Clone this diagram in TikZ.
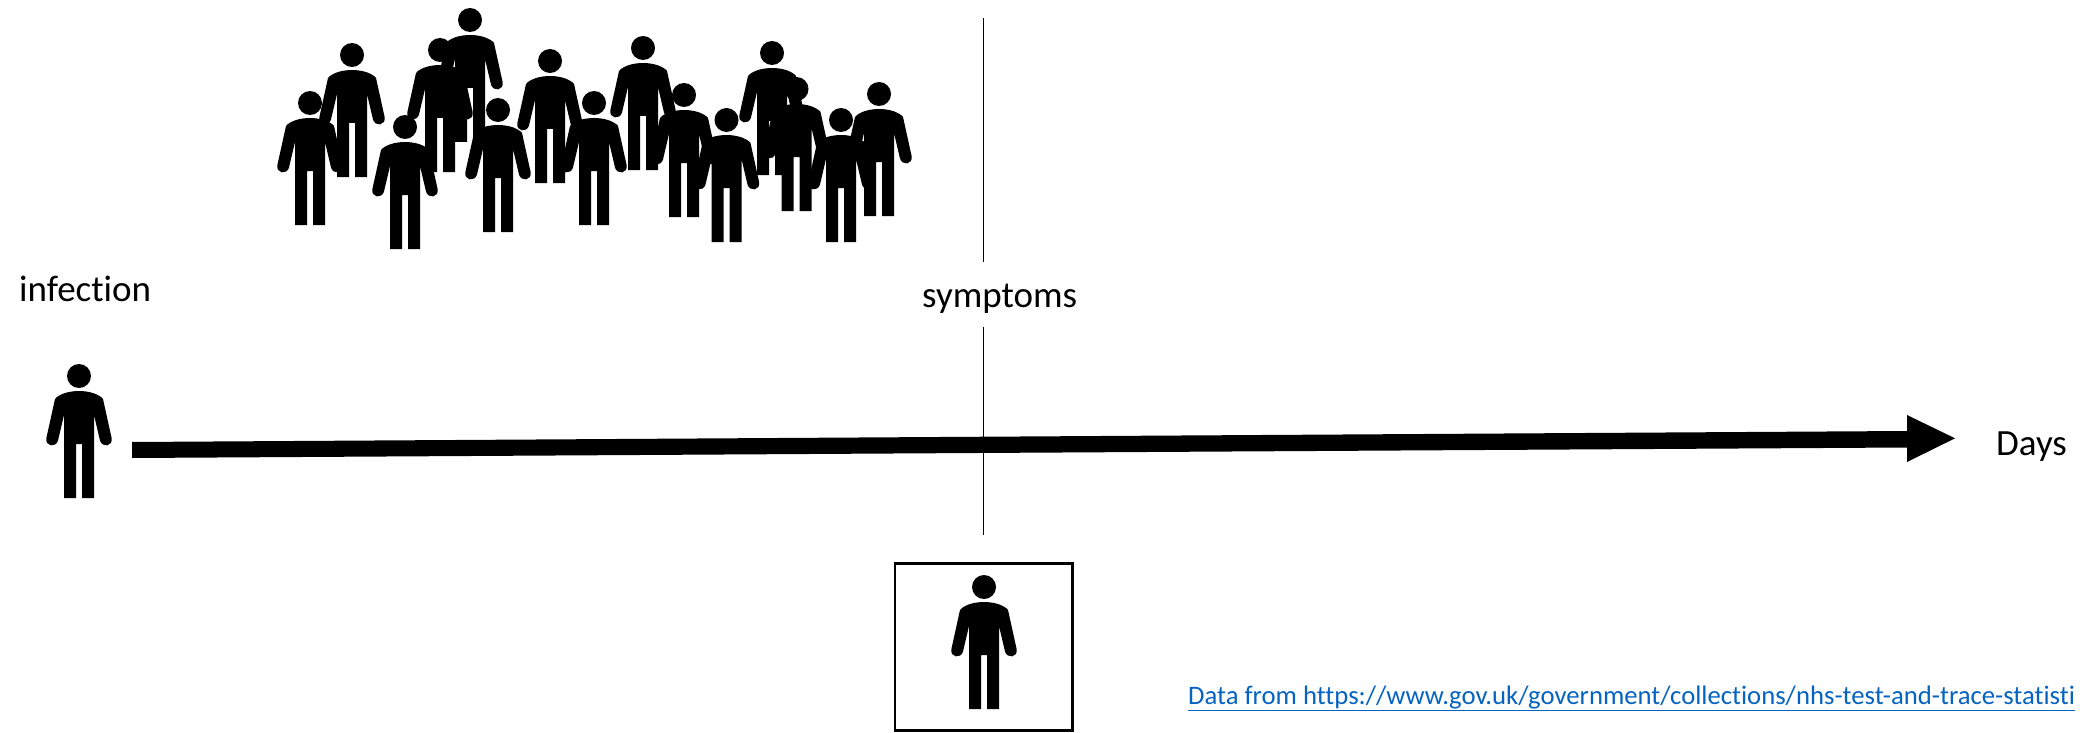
\documentclass[tikz,border=0pt]{standalone}
\usepackage{fontspec}
\setmainfont[Ligatures=CommonOff]{Carlito}
\definecolor{linkblue}{HTML}{0563C1}
\tikzset{
  lab/.style={font=\fontsize{37}{40}\selectfont,inner sep=0pt,anchor=base west,text=black},
  linklab/.style={font=\fontsize{26.7}{30}\selectfont,inner sep=0pt,anchor=base west,text=linkblue},
  thin line/.style={draw=black,line width=1.4pt}
}
\newcommand{\person}[2]{%
 \begin{scope}[shift={(#1,#2)}]
  \fill (0,0) circle (12);
  \fill (0,15) .. controls (-10,15) and (-20,18) .. (-24,23)
    -- (-32.5,61.5) .. controls (-34.5,71) and (-23,72) .. (-21,64.5) -- (-15,39)
    -- (-15,122) -- (-3,122) -- (-3,68) -- (3,68) -- (3,122) -- (15,122) -- (15,39)
    -- (21,64.5) .. controls (23,72) and (34.5,71) .. (32.5,61.5) -- (24,23)
    .. controls (20,18) and (10,15) .. (0,15) -- cycle;
 \end{scope}}
\begin{document}
\begin{tikzpicture}[x=1pt,y=-1pt]
\useasboundingbox (0,0) rectangle (2082,733);
\coordinate (vt) at (983.5,18);
\coordinate (vb) at (983.5,262);
\coordinate (vt2) at (983.5,327);
\coordinate (vb2) at (983.5,535);
\draw[thin line] (vt) -- (vb);
\draw[thin line] (vt2) -- (vb2);
\fill (132,442) -- (1907,431) -- (1907,415) -- (1955,438.3) -- (1907,462) -- (1907,447.5) -- (132,458) -- cycle;
\node[lab] (inf) at (19,301) {infection};
\node[lab] (sym) at (922,307) {symptoms};
\node[lab] (days) at (1996,455) {Days};
\node[draw=black,line width=2.6pt,minimum width=177.5pt,minimum height=167.5pt,inner sep=0pt,outer sep=0pt] (box) at (983.7,647) {};
\node[linklab] (src) at (1188,704) {\underline{Data from https://www.gov.uk/government/collections/nhs-test-and-trace-statisti}};
\person{79}{376}
\person{984}{587}
\person{310}{103}
\person{352}{55}
\person{405}{127}
\person{440}{50}
\person{470}{20}
\person{498}{110}
\person{550}{61}
\person{594}{103}
\person{643}{48}
\person{684}{95}
\person{726.5}{120}
\person{772}{53}
\person{796.5}{89}
\person{841}{120}
\person{879}{94}
\end{tikzpicture}
\end{document}
